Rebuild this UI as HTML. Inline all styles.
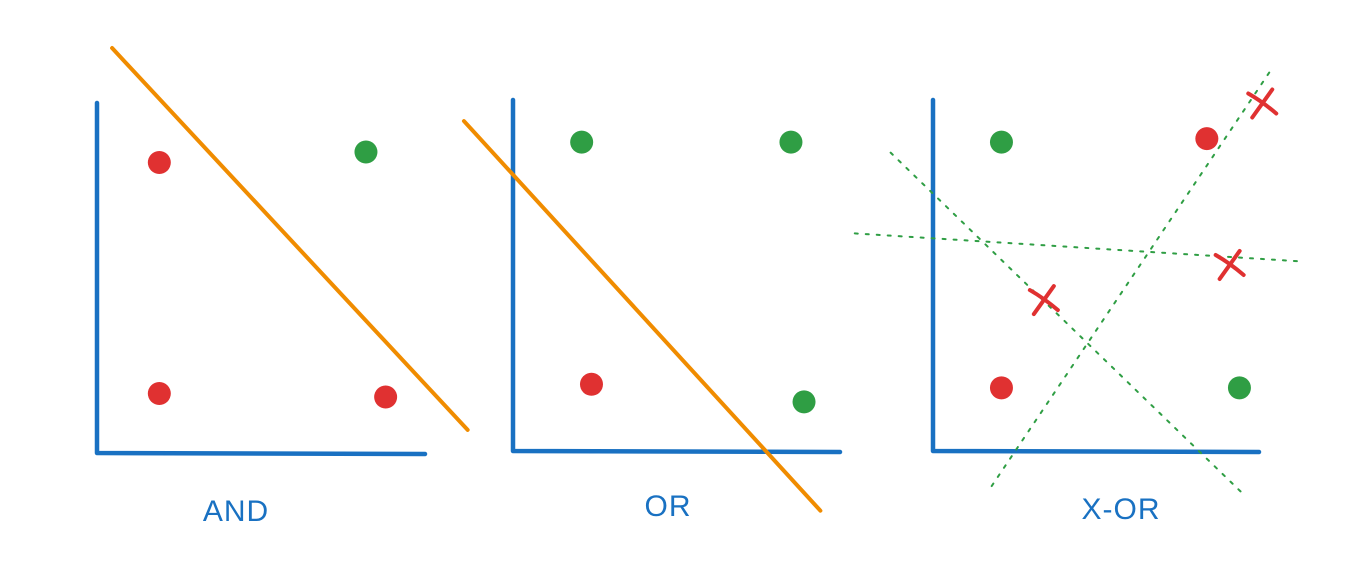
<!DOCTYPE html>
<html><head><meta charset="utf-8"><style>
html,body{margin:0;padding:0;background:#fff;width:1364px;height:563px;overflow:hidden}
svg{display:block}
text{font-family:"Liberation Sans",sans-serif;font-size:30px;fill:#1971c2;letter-spacing:1px}
</style></head><body>
<svg id="chart" width="1364" height="563" viewBox="0 0 1364 563"></svg>
<script>
// Each panel's layout: axis origin and axis lengths in pixels
const panelNames = ["and", "or", "xor"];
const panelLabels = ["AND", "OR", "X-OR"];
// Point data (in fractions of the axis length) and their classes
const andX = [0.19, 0.82, 0.19, 0.88];
const andY = [0.83, 0.86, 0.17, 0.16];
const andC = ["r", "g", "r", "r"];
const orX = [0.21, 0.85, 0.24, 0.89];
const orY = [0.88, 0.88, 0.19, 0.14];
const orC = ["g", "g", "r", "g"];
const xorX = [0.21, 0.84, 0.21, 0.94];
const xorY = [0.88, 0.89, 0.18, 0.18];
const xorC = ["g", "r", "r", "g"];
// Decision lines [x1,y1,x2,y2]
const andLine = [0.046, 1.157, 1.13, 0.066];
const orLine = [-0.15, 0.94, 0.94, -0.17];
const xorLines = [[-0.13, 0.85, 0.96, -0.13], [-0.24, 0.62, 1.13, 0.54], [0.18, -0.10, 1.04, 1.09]];
// Failed-attempt cross marks in the XOR panel
const crossX = [0.34, 0.91, 1.01];
const crossY = [0.43, 0.53, 0.99];

const geo = [
  {ox: 97, oy: 453, w: 328, h: 350, lx: 236, ly: 521},
  {ox: 513, oy: 451, w: 327, h: 351, lx: 668, ly: 516},
  {ox: 933, oy: 451, w: 326, h: 351, lx: 1121, ly: 519}
];
const COL = {r: "#e03131", g: "#2f9e44", blue: "#1971c2", orange: "#f08c00"};
const svg = document.getElementById("chart");
const NS = "http://www.w3.org/2000/svg";
function mk(tag, attrs, parent) {
  const e = document.createElementNS(NS, tag);
  for (const k in attrs) e.setAttribute(k, attrs[k]);
  (parent || svg).appendChild(e);
  return e;
}
function sx(p, v) { return geo[p].ox + v * geo[p].w; }
function sy(p, v) { return geo[p].oy - v * geo[p].h; }

const pts = [[andX, andY, andC], [orX, orY, orC], [xorX, xorY, xorC]];
for (let p = 0; p < 3; p++) {
  const g = mk("g", {});
  
  
  const G = geo[p];
  const ax = mk("path", {d: `M${G.ox} ${G.oy - G.h} L${G.ox} ${G.oy} L${G.ox + G.w} ${G.oy + 1}`, stroke: COL.blue, "stroke-width": 4.5, fill: "none", "stroke-linecap": "round", "stroke-linejoin": "round"}, g);
  
  
  const [X, Y, C] = pts[p];
  for (let i = 0; i < X.length; i++) {
    const c = mk("circle", {cx: sx(p, X[i]), cy: sy(p, Y[i]), r: 11.5, fill: COL[C[i]]}, g);
    
    
  }
  const t = mk("text", {x: G.lx, y: G.ly, "text-anchor": "middle"}, g);
  t.textContent = panelLabels[p];
  
  
}
[[0, andLine], [1, orLine]].forEach(([p, L]) => {
  const l = mk("line", {x1: sx(p, L[0]), y1: sy(p, L[1]), x2: sx(p, L[2]), y2: sy(p, L[3]), stroke: COL.orange, "stroke-width": 4, "stroke-linecap": "round"});
  
  
});
xorLines.forEach(L => {
  const l = mk("line", {x1: sx(2, L[0]), y1: sy(2, L[1]), x2: sx(2, L[2]), y2: sy(2, L[3]), stroke: COL.g, "stroke-width": 2, "stroke-dasharray": "3 8", "stroke-linecap": "round"});
  
  
});
for (let i = 0; i < crossX.length; i++) {
  const cx = sx(2, crossX[i]), cy = sy(2, crossY[i]);
  const c = mk("path", {d: `M${cx - 14} ${cy - 10} Q${cx} ${cy - 2} ${cx + 14} ${cy + 10} M${cx + 10} ${cy - 14} L${cx - 10} ${cy + 14}`, stroke: COL.r, "stroke-width": 4, fill: "none", "stroke-linecap": "round"});
  
  
}
</script>
</body></html>
